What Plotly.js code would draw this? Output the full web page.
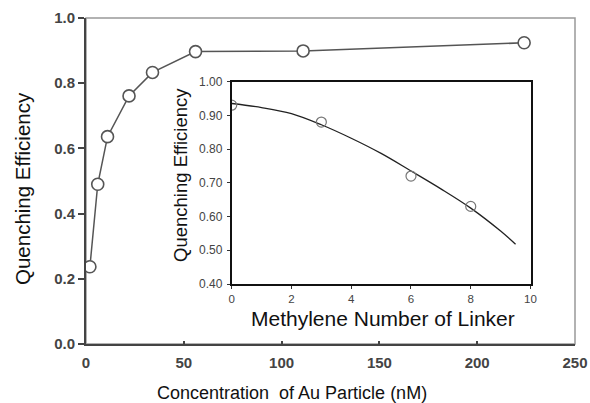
<!DOCTYPE html>
<html>
<head>
<meta charset="utf-8">
<script src="https://cdn.plot.ly/plotly-3.0.1.min.js"></script>
<style>html,body{margin:0;padding:0;background:#fff;}#chart{width:590px;height:403px;}</style>
</head>
<body>
<div id="chart"></div>
<script>
// Main chart: quenching efficiency vs Au particle concentration
const concentration = [2, 6, 11, 22, 34, 56, 111, 224];
const efficiency = [0.237, 0.49, 0.636, 0.761, 0.833, 0.897, 0.899, 0.924];

// Inset: quenching efficiency vs methylene number of linker
const methylene = [0, 3, 6, 8];
const insetEfficiency = [0.93, 0.88, 0.72, 0.63];
const fitX = [0, 1, 2, 3, 4, 5, 6, 7, 8, 9, 9.5];
const fitY = [0.935, 0.923, 0.905, 0.872, 0.832, 0.787, 0.735, 0.682, 0.625, 0.557, 0.518];

const mainXTicks = [0, 50, 100, 150, 200, 250];
const mainYTicks = [0.0, 0.2, 0.4, 0.6, 0.8, 1.0];
const mainYTickText = ['0.0', '0.2', '0.4', '0.6', '0.8', '1.0'];
const insetXTicks = [0, 2, 4, 6, 8, 10];
const insetYTicks = [0.40, 0.50, 0.60, 0.70, 0.80, 0.90, 1.00];
const insetYTickText = ['0.40', '0.50', '0.60', '0.70', '0.80', '0.90', '1.00'];

const mainXTitle = 'Concentration\u00a0 of Au Particle (nM)';
const mainYTitle = 'Quenching Efficiency';
const insetXTitle = 'Methylene Number of Linker';
const insetYTitle = 'Quenching Efficiency';

const font = 'Liberation Sans, Arial, sans-serif';

const traces = [
  {
    x: concentration, y: efficiency, type: 'scatter', mode: 'lines+markers',
    xaxis: 'x', yaxis: 'y',
    line: {color: '#555', width: 1.5},
    marker: {symbol: 'circle', size: 12, color: '#fff', line: {color: '#555', width: 1.6}},
    hoverinfo: 'skip'
  },
  {
    x: fitX, y: fitY, type: 'scatter', mode: 'lines',
    xaxis: 'x2', yaxis: 'y2',
    line: {color: '#222', width: 1.3, shape: 'spline', smoothing: 1},
    hoverinfo: 'skip'
  },
  {
    x: methylene, y: insetEfficiency, type: 'scatter', mode: 'markers',
    xaxis: 'x2', yaxis: 'y2',
    marker: {symbol: 'circle-open', size: 10, color: '#777', line: {color: '#777', width: 1.2}},
    hoverinfo: 'skip'
  }
];

const layout = {
  width: 590, height: 403,
  margin: {l: 86, r: 15, t: 18, b: 59},
  paper_bgcolor: '#fff', plot_bgcolor: '#fff',
  showlegend: false,
  font: {family: font, color: '#222'},
  xaxis: {
    domain: [0, 1], range: [0, 250], tickvals: mainXTicks,
    showgrid: false, zeroline: false, showline: true, linecolor: '#444', linewidth: 2,
    ticks: 'inside', ticklen: 3, tickwidth: 2, tickcolor: '#444',
    ticklabelstandoff: 4,
    tickfont: {family: font, size: 15, color: '#444', weight: 'bold'}
  },
  yaxis: {
    domain: [0, 1], range: [0, 1], tickvals: mainYTicks, ticktext: mainYTickText,
    showgrid: false, zeroline: false, showline: true, linecolor: '#444', linewidth: 2,
    ticks: 'outside', ticklen: 6, tickwidth: 2, tickcolor: '#444',
    ticklabelstandoff: 0,
    tickfont: {family: font, size: 15, color: '#444', weight: 'bold'}
  },
  xaxis2: {
    domain: [0.298, 0.909], anchor: 'y2', range: [0, 10], tickvals: insetXTicks,
    showgrid: false, zeroline: false, showline: true, mirror: true, linecolor: '#111', linewidth: 2,
    ticks: 'outside', ticklen: 3, tickwidth: 1, tickcolor: '#333',
    ticklabelstandoff: 0,
    tickfont: {family: font, size: 11.5, color: '#444'}
  },
  yaxis2: {
    domain: [0.184, 0.805], anchor: 'x2', range: [0.4, 1.0], tickvals: insetYTicks, ticktext: insetYTickText,
    showgrid: false, zeroline: false, showline: true, mirror: true, linecolor: '#111', linewidth: 2,
    ticks: 'outside', ticklen: 3, tickwidth: 1, tickcolor: '#333',
    ticklabelstandoff: 2,
    tickfont: {family: font, size: 12, color: '#444'}
  },
  annotations: [
    {text: mainXTitle, xref: 'paper', yref: 'paper', x: 0.4213, y: -0.150, xanchor: 'center', yanchor: 'middle',
     showarrow: false, font: {family: font, size: 18, color: '#111'}},
    {text: mainYTitle, xref: 'paper', yref: 'paper', x: -0.1309, y: 0.4785, xanchor: 'center', yanchor: 'middle',
     textangle: -90, showarrow: false, font: {family: font, size: 20.5, color: '#111'}},
    {text: insetXTitle, xref: 'paper', yref: 'paper', x: 0.6074, y: 0.078, xanchor: 'center', yanchor: 'middle',
     showarrow: false, font: {family: font, size: 21, color: '#111'}},
    {text: insetYTitle, xref: 'paper', yref: 'paper', x: 0.1922, y: 0.5184, xanchor: 'center', yanchor: 'middle',
     textangle: -90, showarrow: false, font: {family: font, size: 18.5, color: '#111'}}
  ],
  shapes: [
    {type: 'rect', xref: 'paper', yref: 'paper', x0: 0, x1: 1, y0: 0, y1: 1,
     line: {color: '#999', width: 1.5}, fillcolor: 'rgba(0,0,0,0)', layer: 'below'}
  ]
};

Plotly.newPlot('chart', traces, layout, {staticPlot: true, displayModeBar: false});
</script>
</body>
</html>
